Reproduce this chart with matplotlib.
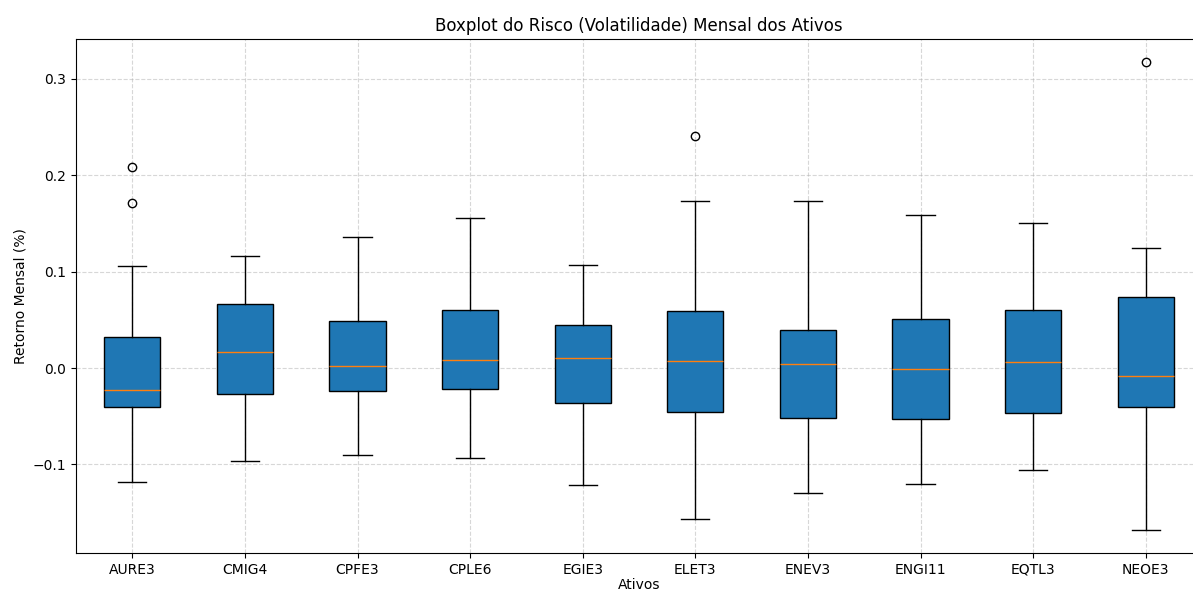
import matplotlib
matplotlib.use("Agg")
import matplotlib.pyplot as plt

ativos = ["AURE3", "CMIG4", "CPFE3", "CPLE6", "EGIE3", "ELET3", "ENEV3", "ENGI11", "EQTL3", "NEOE3"]
whislo = [-0.118, -0.097, -0.090, -0.093, -0.121, -0.157, -0.130, -0.120, -0.106, -0.168]
q1     = [-0.040, -0.027, -0.024, -0.022, -0.036, -0.046, -0.052, -0.053, -0.047, -0.040]
med    = [-0.023, 0.017, 0.002, 0.008, 0.010, 0.007, 0.004, -0.001, 0.006, -0.008]
q3     = [0.032, 0.066, 0.049, 0.060, 0.045, 0.059, 0.039, 0.051, 0.060, 0.074]
whishi = [0.106, 0.116, 0.136, 0.156, 0.107, 0.173, 0.173, 0.159, 0.151, 0.125]
fliers = [[0.209, 0.171], [], [], [], [], [0.241], [], [], [], [0.318]]

stats = []
for i, name in enumerate(ativos):
    stats.append(dict(label=name, whislo=whislo[i], q1=q1[i], med=med[i],
                      q3=q3[i], whishi=whishi[i], fliers=fliers[i]))

fig = plt.figure(figsize=(11.93, 5.93), dpi=100)
ax = fig.add_axes([76/1193, (593-553)/593, 1126/1193, (553-39)/593])
ax.bxp(stats, patch_artist=True,
       boxprops=dict(facecolor="#1f77b4", edgecolor="black"),
       medianprops=dict(color="#ff7f0e"))
ax.set_ylim(-0.192, 0.3415)
ax.set_title("Boxplot do Risco (Volatilidade) Mensal dos Ativos", fontsize=12)
ax.set_xlabel("Ativos", labelpad=1)
ax.set_ylabel("Retorno Mensal (%)")
ax.grid(True, linestyle="--", alpha=0.5)
fig.savefig("out.png", dpi=100)
